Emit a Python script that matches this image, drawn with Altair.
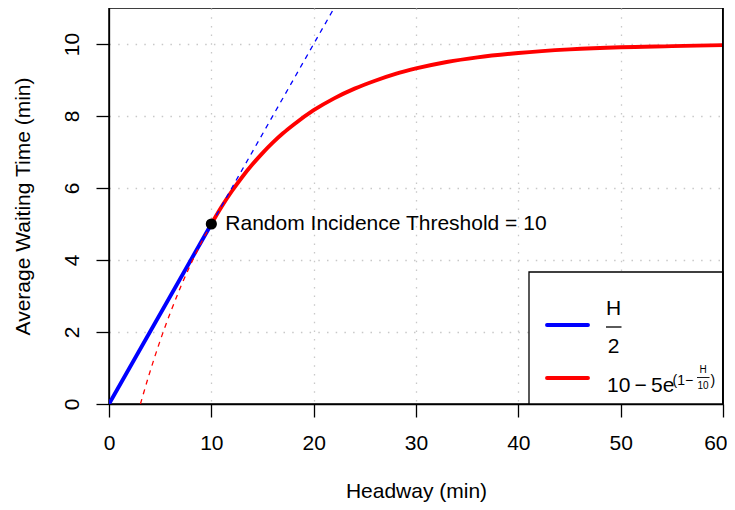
import altair as alt
import pandas as pd

FONT = "Liberation Sans"
FS = 21

# ---- data ----
x_ticks = [0, 10, 20, 30, 40, 50, 60]
y_ticks = [0, 2, 4, 6, 8, 10]

half_solid_h = [0, 10]
half_solid_w = [0, 5]
half_dash_h = [10, 22]
half_dash_w = [5, 11]

exp_solid_h = [10, 11, 12, 13, 14, 15, 16, 17, 18, 20, 22, 24, 26, 28, 30, 33, 36, 40, 45, 50, 55, 60]
exp_solid_w = [5.0, 5.48, 5.91, 6.30, 6.65, 6.97, 7.26, 7.52, 7.75, 8.16, 8.49, 8.76, 8.98, 9.17,
               9.32, 9.50, 9.63, 9.75, 9.85, 9.91, 9.94, 9.97]
exp_dash_h = [3.07, 4, 5, 6, 7, 8, 9, 10]
exp_dash_w = [0.0, 0.89, 1.76, 2.54, 3.25, 3.89, 4.47, 5.0]

threshold_h = [10]
threshold_w = [5]
threshold_label = ["Random Incidence Threshold = 10"]

x_title = "Headway (min)"
y_title = "Average Waiting Time (min)"


def df(h, w):
    return pd.DataFrame({"H": h, "W": w})


first_x, last_x = x_ticks[0], x_ticks[-1]
x_axis = alt.Axis(
    values=x_ticks, title=x_title, tickSize=13, labelPadding=15,
    labelAlign={"condition": {"test": f"datum.value == {last_x}", "value": "right"}, "value": "center"},
    labelOffset={"condition": {"test": f"datum.value == {last_x}", "value": 4}, "value": 0},
    gridOpacity={"condition": {"test": f"datum.value == {first_x} || datum.value == {last_x}",
                               "value": 0}, "value": 1},
    titleY=93, titleBaseline="alphabetic", grid=True)
y_axis = alt.Axis(
    values=y_ticks, title=y_title, tickSize=13, labelPadding=18,
    labelAngle=270, labelAlign="center", labelBaseline="alphabetic",
    gridOpacity={"condition": {"test": f"datum.value == {y_ticks[0]}", "value": 0}, "value": 1},
    titleAngle=270, titleX=-80, titleY=198, titleAlign="center",
    titleBaseline="alphabetic", grid=True)


def X():
    return alt.X("H:Q", scale=alt.Scale(domain=[0, 60], nice=False, zero=False), axis=x_axis)


def Y():
    return alt.Y("W:Q", scale=alt.Scale(domain=[0, 11], nice=False, zero=False), axis=y_axis)


blue_solid = alt.Chart(df(half_solid_h, half_solid_w)).mark_line(
    color="#0000FF", strokeWidth=3.9, strokeCap="round", clip=True).encode(x=X(), y=Y())
red_solid = alt.Chart(df(exp_solid_h, exp_solid_w)).mark_line(
    color="#FF0000", strokeWidth=3.9, strokeCap="round", interpolate="monotone", clip=True
).encode(x=X(), y=Y())
blue_dash = alt.Chart(df(half_dash_h, half_dash_w)).mark_line(
    color="#0000FF", strokeWidth=1.3, strokeDash=[5, 5], clip=True).encode(x=X(), y=Y())
red_dash = alt.Chart(df(exp_dash_h, exp_dash_w)).mark_line(
    color="#FF0000", strokeWidth=1.3, strokeDash=[5, 5], interpolate="monotone", clip=True
).encode(x=X(), y=Y())

point = alt.Chart(df(threshold_h, threshold_w)).mark_point(
    filled=True, color="black", size=125, opacity=1, shape="circle").encode(x=X(), y=Y())

lab_df = df(threshold_h, threshold_w).assign(label=threshold_label)
label = alt.Chart(lab_df).mark_text(
    align="left", baseline="alphabetic", dx=14, dy=6, fontSize=FS, font=FONT, color="black"
).encode(x=X(), y=Y(), text="label:N")

# ---- legend (drawn inside the plot, bottom right) ----
one = pd.DataFrame({"k": [0]})
leg_box = alt.Chart(one).mark_rect(fill="white", stroke="black", strokeWidth=1.3).encode(
    x=alt.value(420), x2=alt.value(614), y=alt.value(264), y2=alt.value(396))
leg_blue = alt.Chart(one).mark_rule(color="#0000FF", strokeWidth=3.9, strokeCap="round").encode(
    x=alt.value(438), x2=alt.value(479), y=alt.value(317))
leg_red = alt.Chart(one).mark_rule(color="#FF0000", strokeWidth=3.9, strokeCap="round").encode(
    x=alt.value(438), x2=alt.value(479), y=alt.value(370))
right_edge = alt.Chart(one).mark_rule(color="black", strokeWidth=1.6).encode(
    x=alt.value(613.8), y=alt.value(0), y2=alt.value(396))


def txt(s, x, y, size, align="left"):
    return alt.Chart(one).mark_text(
        align=align, baseline="alphabetic", fontSize=size, font=FONT, color="black"
    ).encode(x=alt.value(x), y=alt.value(y), text=alt.value(s))


def bar(x1, x2, y, w=1.3):
    return alt.Chart(one).mark_rule(color="black", strokeWidth=w).encode(
        x=alt.value(x1), x2=alt.value(x2), y=alt.value(y))


leg_parts = [
    txt("H", 504.5, 307, FS, "center"),
    bar(497, 512.5, 319),
    txt("2", 504.5, 344.5, FS, "center"),
    txt("10\u2009\u2212\u20095e", 498, 384, FS),
    txt("(1\u2212", 563.5, 377, 14),
    txt("H", 594, 364.5, 10, "center"),
    bar(588, 600.5, 369.5, 0.9),
    txt("10", 594, 381, 10, "center"),
    txt(")", 601.5, 377, 14),
]

chart = alt.layer(
    blue_solid, red_solid, blue_dash, red_dash, point, label,
    leg_box, leg_blue, leg_red, *leg_parts, right_edge
).properties(
    width=614, height=396,
    autosize=alt.AutoSizeParams(type="none"),
    padding={"left": 101, "top": 0, "right": 4, "bottom": 98},
).configure_view(
    stroke="black", strokeWidth=1.5
).configure_axis(
    labelFont=FONT, titleFont=FONT, labelFontSize=FS, titleFontSize=FS,
    labelColor="black", titleColor="black", titleFontWeight="normal",
    domainColor="black", domainWidth=1.3, tickColor="black", tickWidth=1.3,
    gridColor="#c8c8c8", gridWidth=1.3, gridDash=[1.5, 7.2], labelFlush=False,
    labelOverlap=False
)

chart.save("out.html", embed_options={"renderer": "svg", "actions": False})
